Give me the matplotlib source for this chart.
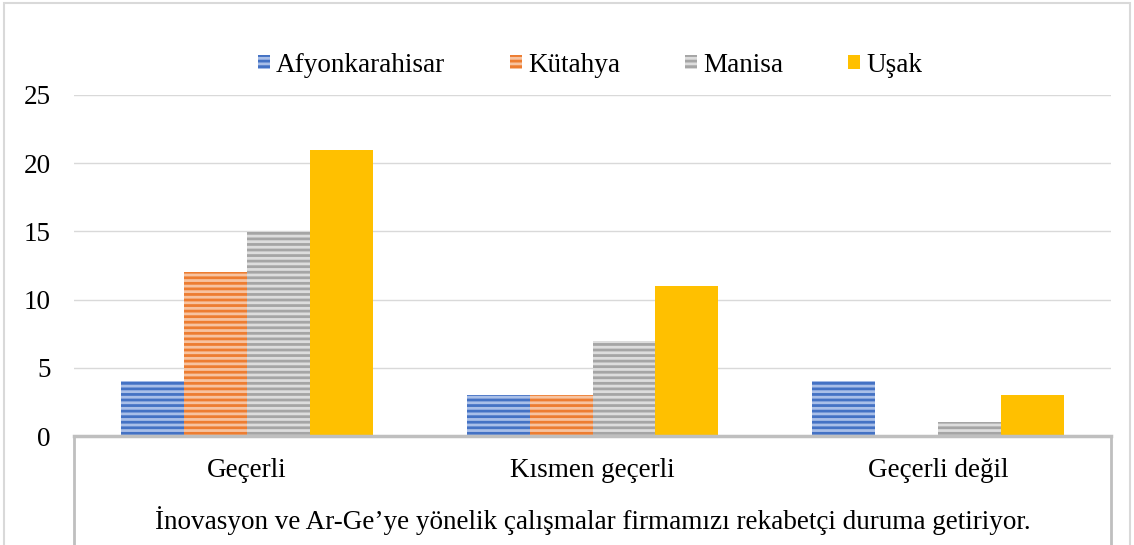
import numpy as np
import matplotlib.pyplot as plt
from matplotlib.patches import Rectangle
from matplotlib.lines import Line2D

plt.rcParams['font.family'] = ['Liberation Serif', 'DejaVu Serif']
plt.rcParams['hatch.linewidth'] = 2.0

categories = ['Geçerli', 'Kısmen geçerli', 'Geçerli değil']
series = ['Afyonkarahisar', 'Kütahya', 'Manisa', 'Uşak']
afyon = [4, 3, 4]
kutahya = [12, 3, 0]
manisa = [15, 7, 1]
usak = [21, 11, 3]
values = [afyon, kutahya, manisa, usak]
yticks = [0, 5, 10, 15, 20, 25]
xtitle = 'İnovasyon ve Ar-Ge’ye yönelik çalışmalar firmamızı rekabetçi duruma getiriyor.'

colors = ['#4472C4', '#ED7D31', '#A5A5A5', '#FFC000']
stripes = ['#A9BFE8', '#F7C3A0', '#DDDDDD', None]
fs = 19.5

fig = plt.figure(figsize=(11.34, 5.45), dpi=100)
ax = fig.add_axes([74/1134, 1-436/545, (1111-74)/1134, (436-95)/545])

# outer frame
fig.patches.append(Rectangle((4/1134, -0.05), 1126/1134, 1.05-3/545, transform=fig.transFigure,
                             fill=False, edgecolor='#d9d9d9', lw=1.5))

x = np.arange(len(categories))
w = 0.182
for i, (name, vals) in enumerate(zip(series, values)):
    pos = x + (i - 1.5) * w
    if stripes[i]:
        ax.bar(pos, vals, w, color=colors[i], edgecolor=stripes[i], hatch='---', lw=0, label=name, zorder=2)
    else:
        ax.bar(pos, vals, w, color=colors[i], lw=0, label=name, zorder=2)

ax.set_xlim(-0.5, 2.5)
ax.set_ylim(0, 25)
ax.set_yticks(yticks)
ax.set_yticklabels([str(t) for t in yticks], fontsize=fs)
ax.tick_params(axis='y', length=0, pad=17)
ax.set_xticks(x)
ax.set_xticklabels(categories, fontsize=fs)
ax.tick_params(axis='x', length=0, pad=16)
ax.grid(axis='y', color='#d9d9d9', lw=1, zorder=0)
for s in ['top', 'right', 'left']:
    ax.spines[s].set_visible(False)
ax.spines['bottom'].set_color('#bfbfbf')
ax.spines['bottom'].set_linewidth(2.5)
ax.spines['bottom'].set_zorder(3)

# category table lines below the axis
for xx in [0, 1]:
    ax.add_line(Line2D([xx, xx], [0, -0.35], transform=ax.transAxes, color='#bfbfbf', lw=2, clip_on=False))

ax.text(0.5, -0.247, xtitle, transform=ax.transAxes, ha='center', va='center', fontsize=fs)

leg = ax.legend(loc='center', bbox_to_anchor=(590/1134, 1-65/545), bbox_transform=fig.transFigure,
                ncol=4, frameon=False, fontsize=fs, handlelength=0.45, handleheight=0.45,
                handletextpad=0.22, columnspacing=2.4)

fig.savefig('out.png', dpi=100)
